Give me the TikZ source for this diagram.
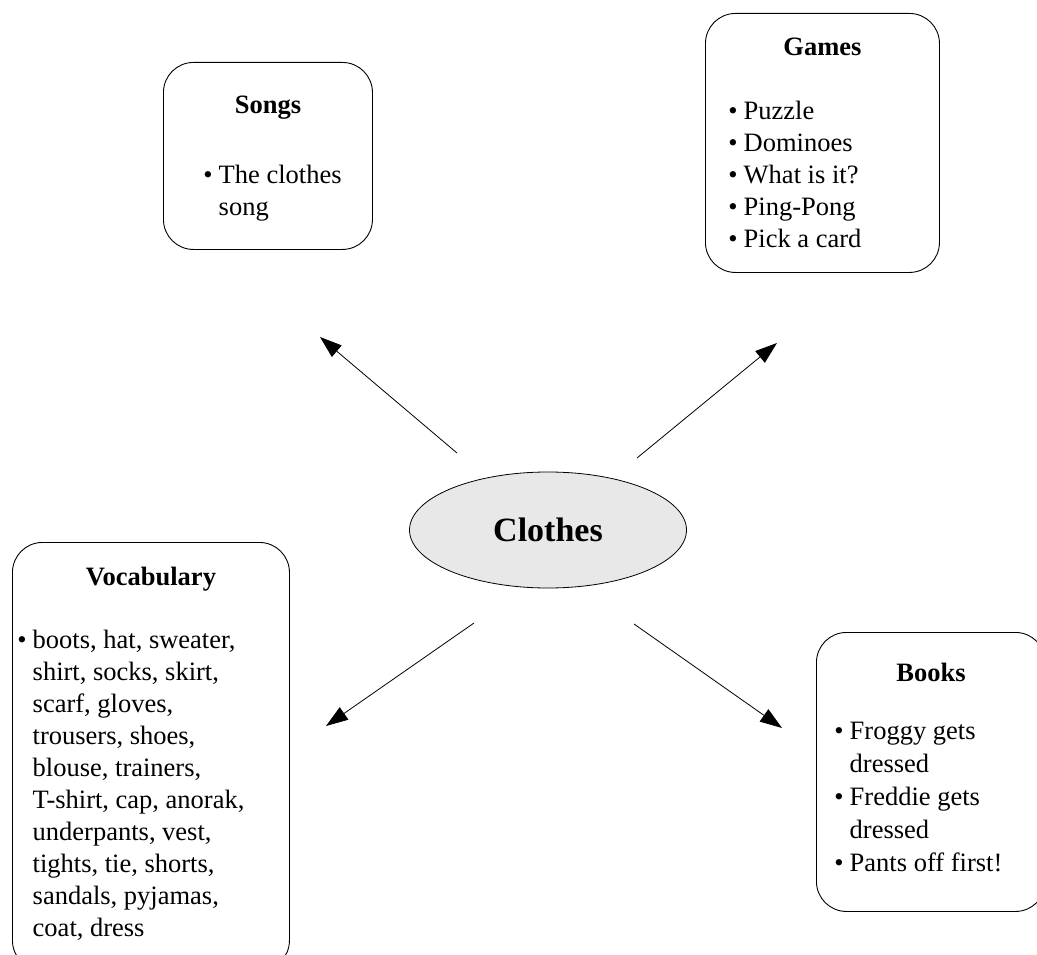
\documentclass[tikz,border=0pt]{standalone}
\usepackage{fontspec}
\setmainfont{Liberation Serif}
\usetikzlibrary{arrows.meta,shapes.geometric}

% width, height, title baseline, title, gap, indent, items
\newcommand{\bulletbox}[7]{%
  \begin{minipage}[t][#2][t]{#1}
    \centering\rule{0pt}{#3}\textbf{#4}\par
    \vspace{#5}\raggedright\hspace*{#6}%
    \begin{tabular}[t]{@{}l@{\hspace{6pt}}l@{}}#7\end{tabular}\par
  \end{minipage}}

\begin{document}
\begin{tikzpicture}[x=1pt, y={(0pt,-1pt)},
  topic/.style = {shape=rectangle, rounded corners=30pt, draw,
    line width=0.9pt, anchor=north west, inner sep=0pt,
    font=\fontsize{26.5}{32}\selectfont},
  hub/.style = {ellipse, draw, fill=gray!18, line width=0.8pt,
    minimum width=277pt, minimum height=116pt, inner sep=0pt,
    font=\fontsize{34}{40}\selectfont\bfseries},
  link/.style = {line width=0.8pt, -{Triangle[length=22pt,width=15pt]}}]
  \clip (0,0) rectangle (1037,955);

  % centre
  \node[hub] (clothes) at (548,530) {Clothes};

  % Songs
  \node[topic] (songs) at (163,62)
    {\bulletbox{209pt}{187pt}{51pt}{Songs}{38pt}{40pt}
      {\textbullet & The clothes\\ & song}};
  % Games
  \node[topic] (games) at (705,13)
    {\bulletbox{234pt}{259pt}{42pt}{Games}{32pt}{23pt}
      {\textbullet & Puzzle\\ \textbullet & Dominoes\\
       \textbullet & What is it?\\ \textbullet & Ping-Pong\\
       \textbullet & Pick a card}};
  % Vocabulary
  \node[topic] (vocab) at (12,542)
    {\bulletbox{277pt}{428pt}{43pt}{Vocabulary}{31pt}{5pt}
      {\textbullet & boots, hat, sweater,\\ & shirt, socks, skirt,\\
       & scarf, gloves,\\ & trousers, shoes,\\ & blouse, trainers,\\
       & T-shirt, cap, anorak,\\ & underpants, vest,\\
       & tights, tie, shorts,\\ & sandals, pyjamas,\\ & coat, dress}};
  % Books
  \node[topic, font=\fontsize{26.5}{33}\selectfont] (books) at (816,632)
    {\bulletbox{229pt}{279pt}{49pt}{Books}{25pt}{18pt}
      {\textbullet & Froggy gets\\ & dressed\\
       \textbullet & Freddie gets\\ & dressed\\
       \textbullet & Pants off first!}};

  % arrow ends
  \coordinate (songs tail) at (457,453);
  \coordinate (songs tip)  at (320,337);
  \coordinate (games tail) at (637,458);
  \coordinate (games tip)  at (777,343);
  \coordinate (vocab tail) at (474,623);
  \coordinate (vocab tip)  at (326,726);
  \coordinate (books tail) at (634,624);
  \coordinate (books tip)  at (782,728);

  \draw[link] (songs tail) -- (songs tip);
  \draw[link] (games tail) -- (games tip);
  \draw[link] (vocab tail) -- (vocab tip);
  \draw[link] (books tail) -- (books tip);
\end{tikzpicture}
\end{document}
